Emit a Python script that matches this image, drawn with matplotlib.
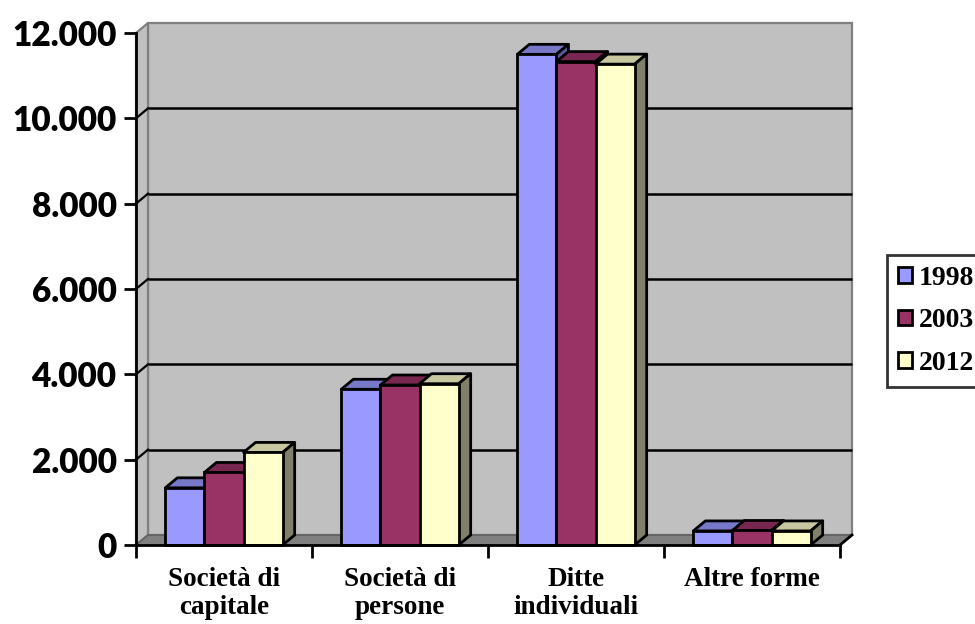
import matplotlib
matplotlib.use("Agg")
import matplotlib.pyplot as plt
from matplotlib.patches import Polygon, Patch
from matplotlib.ticker import FixedLocator

categories = ["Società di\ncapitale", "Società di\npersone", "Ditte\nindividuali", "Altre forme"]
series = ["1998", "2003", "2012"]
values_1998 = [1340, 3650, 11500, 330]
values_2003 = [1700, 3750, 11330, 340]
values_2012 = [2170, 3780, 11270, 330]
yticks = [0, 2000, 4000, 6000, 8000, 10000, 12000]
ytick_labels = ["0", "2.000", "4.000", "6.000", "8.000", "10.000", "12.000"]

all_values = [values_1998, values_2003, values_2012]
front_colors = ["#9999FF", "#993366", "#FFFFCC"]
top_colors = ["#7878C8", "#782850", "#C8C8A0"]
side_colors = ["#5A5A99", "#5C1F3D", "#80806A"]

W, H = 975, 624
fig = plt.figure(figsize=(W / 100, H / 100), dpi=100)
ax = fig.add_axes([136 / W, (H - 545) / H, (840 - 136) / W, (545 - 33) / H])
n_cat = len(categories)
ax.set_xlim(-0.5, n_cat - 0.5)
ax.set_ylim(0, 12000)
ax.patch.set_visible(False)

# depth offset (pixels) converted through the axes scale
DX_PX, DY_PX = 12, 10
fig.canvas.draw()
bb = ax.get_window_extent()
x0, x1 = ax.get_xlim()
y0, y1 = ax.get_ylim()
dx = DX_PX * (x1 - x0) / bb.width
dy = DY_PX * (y1 - y0) / bb.height

wall_gray = "#C0C0C0"
edge_gray = "#808080"
LW = 2.0

# back wall
ax.add_patch(Polygon([(x0 + dx, y0 + dy), (x1 + dx, y0 + dy), (x1 + dx, y1 + dy), (x0 + dx, y1 + dy)],
                     closed=True, facecolor=wall_gray, edgecolor=edge_gray, lw=1.6, clip_on=False, zorder=0.5))
# left side wall
ax.add_patch(Polygon([(x0, y0), (x0 + dx, y0 + dy), (x0 + dx, y1 + dy), (x0, y1)],
                     closed=True, facecolor=wall_gray, edgecolor=edge_gray, lw=1.6, clip_on=False, zorder=0.6))
# floor
ax.add_patch(Polygon([(x0, y0), (x1, y0), (x1 + dx, y0 + dy), (x0 + dx, y0 + dy)],
                     closed=True, facecolor="#808080", edgecolor="#606060", lw=1.2, clip_on=False, zorder=0.7))
ax.plot([x1, x1 + dx], [y0, y0 + dy], color="black", lw=LW, clip_on=False, zorder=0.8)

# gridlines on back and side walls
for v in yticks[1:-1]:
    ax.plot([x0 + dx, x1 + dx], [v + dy, v + dy], color="black", lw=1.8, clip_on=False, zorder=0.8,
            solid_capstyle="butt")
    ax.plot([x0, x0 + dx], [v, v + dy], color="black", lw=1.6, clip_on=False, zorder=0.8)

# bars
gap = 1.5
w = 1.0 / (len(series) + gap)
z = 2
for i in range(n_cat):
    for j in range(len(series)):
        h = all_values[j][i]
        left = i - 1.5 * w + j * w
        right = left + w
        ax.bar(left, h, width=w, align="edge", color=front_colors[j], edgecolor="black",
               linewidth=LW, zorder=z + 0.3, clip_on=False)
        ax.add_patch(Polygon([(left, h), (right, h), (right + dx, h + dy), (left + dx, h + dy)],
                             closed=True, facecolor=top_colors[j], edgecolor="black", lw=LW,
                             clip_on=False, zorder=z + 0.1, joinstyle="round"))
        ax.add_patch(Polygon([(right, 0), (right + dx, dy), (right + dx, h + dy), (right, h)],
                             closed=True, facecolor=side_colors[j], edgecolor="black", lw=LW,
                             clip_on=False, zorder=z + 0.2, joinstyle="round"))
        z += 1

# axes
for s in ["top", "right"]:
    ax.spines[s].set_visible(False)
for s in ["left", "bottom"]:
    ax.spines[s].set_color("black")
    ax.spines[s].set_linewidth(LW)
    ax.spines[s].set_zorder(z + 5)

ax.set_yticks(yticks)
ax.set_yticklabels(ytick_labels, fontfamily="Lato", fontweight="heavy", fontsize=24)
ax.tick_params(axis="y", direction="out", length=9, width=LW, pad=5, colors="black")

ax.set_xticks(range(n_cat))
ax.set_xticklabels(categories, fontfamily="Liberation Serif", fontweight="bold", fontsize=19.5,
                   linespacing=1.12)
ax.tick_params(axis="x", which="major", length=0, pad=16)
ax.xaxis.set_minor_locator(FixedLocator([k - 0.5 for k in range(n_cat + 1)]))
ax.tick_params(axis="x", which="minor", direction="out", length=9, width=LW, colors="black")

handles = [Patch(facecolor=c, edgecolor="black", linewidth=LW) for c in front_colors]
leg = fig.legend(handles, series, loc="upper left", bbox_to_anchor=(887 / W, 1 - 255 / H),
                 bbox_transform=fig.transFigure, borderaxespad=0, frameon=True, fancybox=False,
                 shadow=False, prop={"family": "Liberation Serif", "weight": "bold", "size": 20},
                 handlelength=0.5, handleheight=0.5, handletextpad=0.25, labelspacing=0.62,
                 borderpad=0.4)
leg.get_frame().set_edgecolor("black")
leg.get_frame().set_linewidth(LW)

fig.savefig("out.png", dpi=100)
